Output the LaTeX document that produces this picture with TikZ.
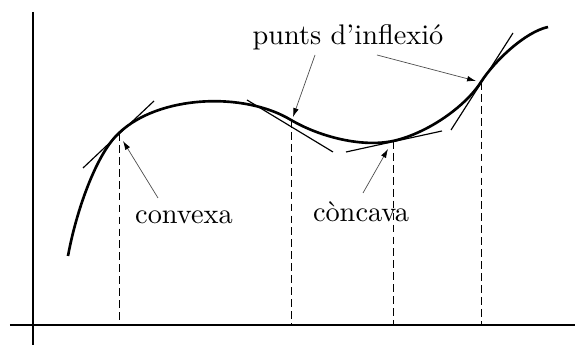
\documentclass[tikz,border=0pt]{standalone}
\usetikzlibrary{arrows.meta}
\begin{document}
\begin{tikzpicture}[x=0.36pt,y=-0.36pt,
  axis/.style={line width=0.5pt},
  curve/.style={line width=0.95pt},
  tangent/.style={line width=0.42pt},
  guide/.style={line width=0.35pt,dash pattern=on 2.8pt off 1.5pt},
  pointer/.style={line width=0.25pt,black!70,-{Latex[length=3.2pt,width=2pt,black]}},
  lab/.style={inner sep=0pt,font=\fontsize{10.2}{12}\selectfont}]
\useasboundingbox (0,0) rectangle (575,347);
% axes
\coordinate (ytop) at (33,12);
\coordinate (ybot) at (33,345);
\coordinate (xl) at (10,325);
\coordinate (xr) at (575,325);
\draw[axis] (ytop) -- (ybot);
\draw[axis] (xl) -- (xr);
% key points
\coordinate (S) at (68,256);
\coordinate (A) at (119,133);
\coordinate (B) at (291,120);
\coordinate (C) at (393,141);
\coordinate (D) at (481,82);
\coordinate (E) at (548,27);
% curve
\draw[curve] (S) .. controls (76,212) and (96,154) .. (A)
  .. controls (159,95) and (244,91.6) .. (B)
  .. controls (320,137) and (362,147.5) .. (C)
  .. controls (427,133.5) and (465,107) .. (D)
  .. controls (494.5,61) and (525,32) .. (E);
% tangents
\coordinate (tA1) at (83,168); \coordinate (tA2) at (154,101);
\coordinate (tB1) at (247,100); \coordinate (tB2) at (333,152);
\coordinate (tC1) at (346,152); \coordinate (tC2) at (442,131);
\coordinate (tD1) at (451,130); \coordinate (tD2) at (513,33);
\draw[tangent] (tA1) -- (tA2);
\draw[tangent] (tB1) -- (tB2);
\draw[tangent] (tC1) -- (tC2);
\draw[tangent] (tD1) -- (tD2);
% guides
\draw[guide] (A) -- (A |- xl);
\draw[guide] (B) -- (B |- xl);
\draw[guide] (C) -- (C |- xl);
\draw[guide] (D) -- (D |- xl);
% labels
\node[lab] (convexa) at (184,217) {convexa};
\node[lab] (concava) at (361,212) {còncava};
\node[lab] (punts) at (348,37) {punts d'inflexió};
\coordinate (pc) at (158,198);
\coordinate (pk) at (363,193);
\coordinate (p1) at (315,55);
\coordinate (p2) at (377,55);
\draw[pointer] (pc) -- (123,141);
\draw[pointer] (pk) -- (388,149);
\draw[pointer] (p1) -- (293,117);
\draw[pointer] (p2) -- (476,81);
\end{tikzpicture}
\end{document}
